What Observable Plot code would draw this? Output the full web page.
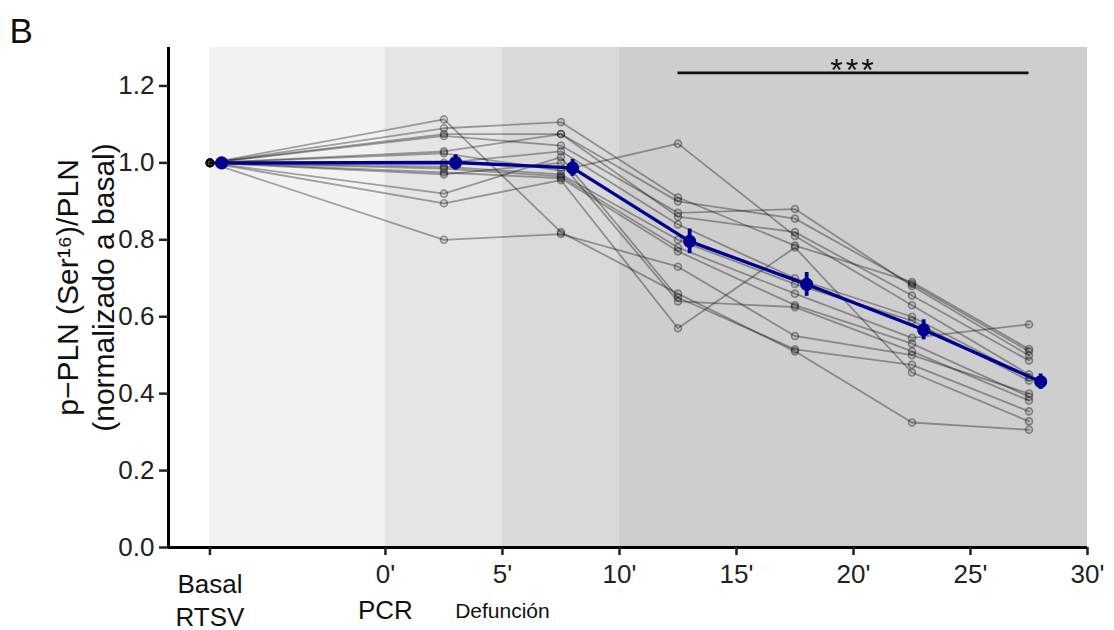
<!DOCTYPE html>
<html>
<head>
<meta charset="utf-8">
<script src="https://cdn.jsdelivr.net/npm/d3@7"></script>
<script src="https://cdn.jsdelivr.net/npm/@observablehq/plot@0.6"></script>
<style>
  body { margin: 0; background: #fff; }
  #chart svg { font-family: "Liberation Sans", Arial, sans-serif; }
</style>
</head>
<body>
<div id="chart"></div>
<script>
// ---- Data ----
const subjects = ["S1","S2","S3","S4","S5","S6","S7","S8","S9","S10","S11","S12","S13","S14"];
// x positions (minutes; basal drawn at -7.5)
const timeIndividual = [-7.5, 2.5, 7.5, 12.5, 17.5, 22.5, 27.5];
const timeMean = [-7, 3, 8, 13, 18, 23, 28];
// per-time individual values (index = subject)
const vBasal = [1,1,1,1,1,1,1,1,1,1,1,1,1,1];
const v2_5  = [1.113, 0.800, 1.090, 1.075, 1.070, 1.030, 1.025, 1.000, 0.990, 0.985, 0.975, 0.970, 0.920, 0.895];
const v7_5  = [0.820, 0.815, 1.106, 1.075, 1.045, 1.075, 0.980, 1.030, 0.970, 0.965, 0.960, 1.000, 1.015, 0.955];
const v12_5 = [0.660, 0.730, 0.910, 0.900, 0.870, 0.860, 1.050, 0.840, 0.800, 0.780, 0.770, 0.640, 0.650, 0.570];
const v17_5 = [0.510, 0.550, 0.785, 0.855, 0.880, 0.820, 0.810, 0.700, 0.685, 0.660, 0.630, 0.625, 0.515, 0.780];
const v22_5 = [0.325, 0.500, 0.690, 0.685, 0.680, 0.655, 0.630, 0.600, 0.590, 0.545, 0.530, 0.510, 0.475, 0.455];
const v27_5 = [0.306, 0.400, 0.516, 0.510, 0.499, 0.486, 0.450, 0.442, 0.434, 0.580, 0.392, 0.382, 0.354, 0.328];
// mean ± SEM
const meanValues = [1.000, 1.001, 0.987, 0.796, 0.684, 0.566, 0.431];
const semValues  = [0.000, 0.020, 0.022, 0.032, 0.031, 0.026, 0.020];
// background phases
const bandStart = [-7.5, 0, 5, 10];
const bandEnd   = [0, 5, 10, 30];
// axis ticks
const yTicks = [0, 0.2, 0.4, 0.6, 0.8, 1.0, 1.2];
const xTicks = [-7.5, 0, 5, 10, 15, 20, 25, 30];
const xTickLabels = ["", "0'", "5'", "10'", "15'", "20'", "25'", "30'"];
const subLabelX = [-7.5, 0, 5];
const subLabelText = ["Basal\nRTSV", "PCR", "Defunción"];
// significance
const sigStart = [12.5];
const sigEnd = [27.5];
const sigLevel = [1.234];
const sigText = ["***"];
const yTitle = "p\u2212PLN (Ser\u00B9\u2076)/PLN\n(normalizado a basal)";
const panelLetter = "B";

// ---- styles ----
const bandColors = ["#f2f2f2", "#e5e5e5", "#d9d9d9", "#cecece"];
const blue = "#000090";
const xDomain = [-9.27, 30];
const yDomain = [0, 1.3];

// ---- tidy tables ----
const perTime = [vBasal, v2_5, v7_5, v12_5, v17_5, v22_5, v27_5];
const individual = [];
subjects.forEach((s, i) => {
  timeIndividual.forEach((t, j) => individual.push({subject: s, x: t, value: perTime[j][i]}));
});
const means = timeMean.map((t, j) => ({x: t, mean: meanValues[j], sem: semValues[j]}));
const bands = bandStart.map((s, i) => ({x1: s, x2: bandEnd[i], color: bandColors[i]}));
const sig = sigStart.map((s, i) => ({x1: s, x2: sigEnd[i], y: sigLevel[i], label: sigText[i], xm: (s + sigEnd[i]) / 2}));
const tickLabel = new Map(xTicks.map((t, i) => [t, xTickLabels[i]]));
const subs = subLabelX.map((x, i) => ({x, text: subLabelText[i]}));

const chart = Plot.plot({
  width: 1114,
  height: 630,
  marginLeft: 168,
  marginRight: 27,
  marginTop: 47,
  marginBottom: 83,
  x: {domain: xDomain},
  y: {domain: yDomain},
  style: {fontFamily: "'Liberation Sans', Arial, sans-serif", fontSize: "24px", background: "#fff"},
  marks: [
    Plot.rect(bands, {x1: "x1", x2: "x2", y1: yDomain[0], y2: yDomain[1], fill: d => d.color}),
    Plot.line(individual, {x: "x", y: "value", z: "subject", stroke: "black", strokeOpacity: 0.34, strokeWidth: 1.8}),
    Plot.dot(individual, {x: "x", y: "value", r: 3.5, stroke: "black", strokeOpacity: 0.36, strokeWidth: 1.6, fill: "black", fillOpacity: 0.08}),
    Plot.line(means, {x: "x", y: "mean", stroke: blue, strokeWidth: 3.3}),
    Plot.ruleX(means, {x: "x", y1: d => d.mean - d.sem, y2: d => d.mean + d.sem, stroke: blue, strokeWidth: 3.8}),
    Plot.dot(means, {x: "x", y: "mean", r: 5.8, fill: blue, stroke: blue}),
    Plot.ruleY(sig, {x1: "x1", x2: "x2", y: "y", stroke: "#111", strokeWidth: 2.8}),
    Plot.text(sig, {x: "xm", y: "y", text: "label", fontSize: 32, lineAnchor: "bottom", dy: 8, fill: "#111"}),
    // axis lines
    Plot.ruleX([xDomain[0]], {stroke: "black", strokeWidth: 3}),
    Plot.ruleY([yDomain[0]], {stroke: "black", strokeWidth: 3}),
    Plot.axisY({ticks: yTicks, tickFormat: d3.format(".1f"), tickSize: 9, tickPadding: 5, fontSize: 26, color: "#222", strokeWidth: 2.5, label: null}),
    Plot.axisX({ticks: xTicks, tickFormat: d => tickLabel.get(d), tickSize: 8, tickPadding: 9, fontSize: 26, color: "#222", strokeWidth: 2.5, label: null}),
    Plot.text([subs[0]], {x: "x", frameAnchor: "bottom", text: "text", fontSize: 26, lineHeight: 1.25, lineAnchor: "bottom", dy: 78, fill: "#111"}),
    Plot.text([subs[1]], {x: "x", frameAnchor: "bottom", text: "text", fontSize: 26, lineAnchor: "bottom", dy: 71, fill: "#111"}),
    Plot.text([subs[2]], {x: "x", frameAnchor: "bottom", text: "text", fontSize: 21, lineAnchor: "bottom", dy: 70, fill: "#111"}),
    Plot.text([yTitle], {text: d => d, frameAnchor: "left", rotate: -90, dx: -55, dy: -10, lineAnchor: "bottom", textAnchor: "middle", fontSize: 30, lineHeight: 1.2, fill: "#111"}),
    Plot.text([panelLetter], {text: d => d, frameAnchor: "top-left", dx: -159, dy: -5, lineAnchor: "bottom", textAnchor: "start", fontSize: 35, fill: "#111"})
  ]
});
d3.select(chart).selectAll("text").filter(function() { return this.textContent === "***"; }).style("letter-spacing", "3px");
document.getElementById("chart").appendChild(chart);
</script>
</body>
</html>
